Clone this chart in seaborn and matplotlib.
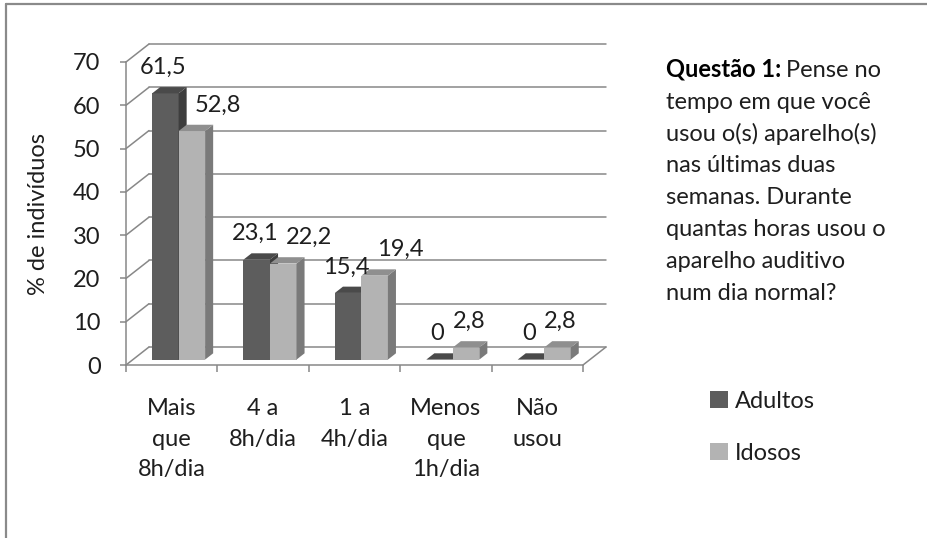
import matplotlib
matplotlib.use("Agg")
import matplotlib.pyplot as plt
import seaborn as sns
import pandas as pd
import numpy as np
from matplotlib.patches import Polygon
from matplotlib.lines import Line2D

# ---------------- data ----------------
categorias = ["Mais\nque\n8h/dia", "4 a\n8h/dia", "1 a\n4h/dia", "Menos\nque\n1h/dia", "Não\nusou"]
adultos = [61.5, 23.1, 15.4, 0, 0]
idosos = [52.8, 22.2, 19.4, 2.8, 2.8]
grupos = ["Adultos", "Idosos"]
yticks = [0, 10, 20, 30, 40, 50, 60, 70]
ylabel = "% de indivíduos"
questao_bold = "Questão 1:"
questao_linhas = ["Pense no", "tempo em que você", "usou o(s) aparelho(s)", "nas últimas duas",
                  "semanas. Durante", "quantas horas usou o", "aparelho auditivo", "num dia normal?"]

# ---------------- style ----------------
sns.set_theme(style="white")
plt.rcParams['font.family'] = ['Lato', 'DejaVu Sans']
FS = 17
TXT = "#1e1e1e"
GRID = "#888888"
front_c = ["#5d5d5d", "#b3b3b3"]
side_c = ["#3e3e3e", "#7a7a7a"]
top_c = ["#4a4a4a", "#8f8f8f"]

df = pd.DataFrame({
    "categoria": categorias * 2,
    "valor": adultos + idosos,
    "grupo": [grupos[0]] * len(categorias) + [grupos[1]] * len(categorias),
})

W, H = 927, 538
fig = plt.figure(figsize=(W / 100, H / 100), dpi=100)
fig.patch.set_facecolor("white")
ax = fig.add_axes([126 / W, 1 - 365 / H, 457 / W, 303 / H])

sns.barplot(data=df, x="categoria", y="valor", hue="grupo", order=categorias, hue_order=grupos,
            palette=front_c, saturation=1, width=0.58, errorbar=None, legend=False,
            linewidth=0, ax=ax)
ax.set_xlim(-0.5, len(categorias) - 0.5)
ax.set_ylim(yticks[0], yticks[-1])
ax.set_facecolor("none")

# depth of the pseudo-3D box (in data units)
px_x = 457 / len(categorias)
px_y = 303 / (yticks[-1] - yticks[0])
dx = 23 / px_x
dy = 18 / px_y
d0, d1 = 0.3, 0.65
x_lo, x_hi = ax.get_xlim()

lw = 1.1
# back wall gridlines and side wall diagonals
for v in yticks:
    if v > yticks[0]:
        ax.add_line(Line2D([x_lo + dx, x_hi + dx], [v + dy, v + dy], color=GRID, lw=lw,
                           clip_on=False, zorder=1))
    ax.add_line(Line2D([x_lo, x_lo + dx], [v, v + dy], color=GRID, lw=lw, clip_on=False, zorder=1))
# floor
ax.add_line(Line2D([x_lo + dx, x_hi + dx], [dy, dy], color=GRID, lw=lw, clip_on=False, zorder=1))
ax.add_line(Line2D([x_hi, x_hi + dx], [0, dy], color=GRID, lw=lw, clip_on=False, zorder=1))

# 3D faces + labels
for gi, cont in enumerate(ax.containers):
    z = 3 + gi
    for bar in cont.patches:
        x, w, h = bar.get_x(), bar.get_width(), bar.get_height()
        x0 = x + d0 * dx
        y0 = d0 * dy
        bar.set_x(x0)
        bar.set_y(y0)
        bar.set_zorder(z)
        bar.set_clip_on(False)
        ddx = (d1 - d0) * dx
        ddy = (d1 - d0) * dy
        ax.add_patch(Polygon([(x0 + w, y0), (x0 + w, y0 + h), (x0 + w + ddx, y0 + h + ddy),
                              (x0 + w + ddx, y0 + ddy)], closed=True, fc=side_c[gi], ec="none",
                             zorder=z, clip_on=False))
        ax.add_patch(Polygon([(x0, y0 + h), (x0 + w, y0 + h), (x0 + w + ddx, y0 + h + ddy),
                              (x0 + ddx, y0 + h + ddy)], closed=True, fc=top_c[gi], ec="none",
                             zorder=z, clip_on=False))
        lab = f"{h:g}".replace(".", ",")
        if gi == 0:
            off = -2
        else:
            off = 26 if h >= 10 else 3
        ax.annotate(lab, xy=(x0 + w / 2, y0 + h + ddy), xytext=(off * 0.72, 13 * 0.72),
                    textcoords="offset points", ha="center", va="baseline", fontsize=FS,
                    color=TXT, zorder=10, annotation_clip=False)

# axes styling
for s in ["top", "right"]:
    ax.spines[s].set_visible(False)
for s in ["left", "bottom"]:
    ax.spines[s].set_color(GRID)
    ax.spines[s].set_linewidth(lw)
    ax.spines[s].set_zorder(2)
ax.set_yticks(yticks)
ax.set_xticks(np.arange(x_lo, x_hi + 0.01, 1), minor=True)
ax.tick_params(axis="y", which="major", length=4.3, width=lw, color=GRID, pad=14,
               labelsize=FS, labelcolor=TXT, left=True, direction="out")
ax.tick_params(axis="x", which="major", length=0, pad=24, labelsize=FS, labelcolor=TXT)
ax.tick_params(axis="x", which="minor", length=5, width=lw, color=GRID, bottom=True,
               direction="out")
ax.set_xticks(range(len(categorias)))
ax.set_xticklabels(categorias)
for t in ax.get_xticklabels():
    t.set_linespacing(1.55)
ax.set_xlabel("")
ax.set_ylabel("")
ax.grid(False)

fig.text(39 / W, 1 - 214 / H, ylabel, rotation=90, ha="center", va="center",
         fontsize=FS, color=TXT)

# question text
x_txt = 666 / W
base0 = 77
step = 31.8
renderer = fig.canvas.get_renderer()
tb = fig.text(x_txt, 1 - base0 / H, questao_bold, fontsize=FS, fontweight="bold",
              color="black", va="baseline", ha="left")
bb = tb.get_window_extent(renderer=renderer)
fig.text((bb.x1 + 5) / W, 1 - base0 / H, questao_linhas[0], fontsize=FS, color=TXT,
         va="baseline", ha="left")
for i, line in enumerate(questao_linhas[1:], start=1):
    fig.text(x_txt, 1 - (base0 + i * step) / H, line, fontsize=FS, color=TXT,
             va="baseline", ha="left")

# legend
leg = fig.legend(handles=list(ax.containers), labels=grupos, loc="upper left",
                 bbox_to_anchor=(710 / W, 1 - 391 / H), frameon=False, fontsize=FS,
                 handlelength=0.75, handleheight=0.75, handletextpad=0.3, labelspacing=1.3,
                 borderaxespad=0, borderpad=0)
for t in leg.get_texts():
    t.set_color(TXT)

# outer border (top and left visible)
fig.add_artist(Line2D([6 / W, 1], [1 - 4 / H, 1 - 4 / H], color="#8a8a8a", lw=1.6,
                      transform=fig.transFigure))
fig.add_artist(Line2D([6 / W, 6 / W], [0, 1 - 4 / H], color="#8a8a8a", lw=1.6,
                      transform=fig.transFigure))

fig.savefig("out.png", dpi=100, facecolor="white")
